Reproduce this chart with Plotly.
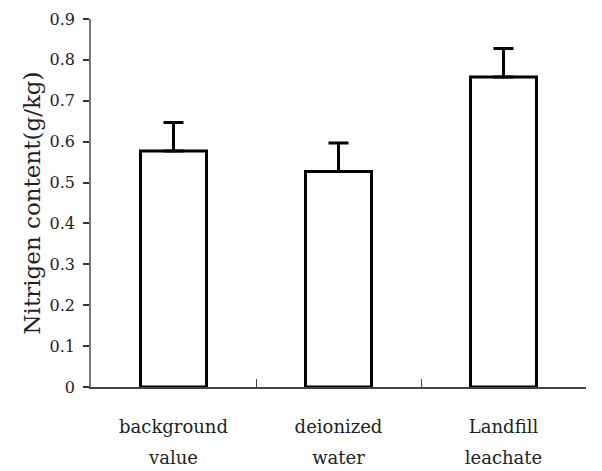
import plotly.graph_objects as go

categories = ["background value", "deionized water", "Landfill leachate"]
line1 = ["background", "deionized", "Landfill"]
line2 = ["value", "water", "leachate"]
values = [0.577, 0.527, 0.758]
errors = [0.070, 0.070, 0.070]
yticks = [0, 0.1, 0.2, 0.3, 0.4, 0.5, 0.6, 0.7, 0.8, 0.9]
ytick_text = ["0", "0.1", "0.2", "0.3", "0.4", "0.5", "0.6", "0.7", "0.8", "0.9"]

FONT = "DejaVu Serif"

fig = go.Figure()
fig.add_trace(go.Bar(
    x=categories, y=values,
    marker=dict(color="white", line=dict(color="black", width=3)),
    error_y=dict(type="data", array=errors, arrayminus=[0]*len(errors), symmetric=False,
                 color="black", thickness=3, width=10),
))

fig.update_layout(
    width=594, height=463,
    margin=dict(l=83, r=16, t=11, b=84, autoexpand=False),
    paper_bgcolor="white", plot_bgcolor="white",
    showlegend=False,
    bargap=0.6,
    font=dict(family=FONT, color="black"),
    xaxis=dict(
        type="category", automargin=False,
        tickmode="array", tickvals=categories, ticktext=line1,
        showline=True, linecolor="#444444", linewidth=1.5,
        ticks="inside", ticklen=8, tickcolor="#444444", tickwidth=1,
        tickson="boundaries",
        tickfont=dict(family=FONT, size=18, color="#222222"),
        ticklabelstandoff=23,
        showgrid=False, zeroline=False,
        range=[-0.5, 2.5],
    ),
    xaxis2=dict(
        overlaying="x", anchor="y", side="bottom", automargin=False,
        range=[-0.5, 2.5],
        tickmode="array", tickvals=[0, 1, 2], ticktext=line2,
        showline=False, ticks="", showgrid=False, zeroline=False,
        tickfont=dict(family=FONT, size=18, color="#222222"),
        ticklabelstandoff=58,
    ),
    yaxis=dict(
        range=[0, 0.9], automargin=False,
        tickmode="array", tickvals=yticks, ticktext=ytick_text,
        showline=True, linecolor="#777777", linewidth=1.5,
        ticks="outside", ticklen=6, tickcolor="#333333", tickwidth=1.5,
        tickfont=dict(family=FONT, size=16, color="#222222"),
        ticklabelstandoff=5,
        showgrid=False, zeroline=False,
        title=dict(text="Nitrigen content(g/kg)", font=dict(family=FONT, size=23, color="#222222"),
                   standoff=3),
    ),
)
fig.add_trace(go.Scatter(x=[0, 1, 2], y=[None, None, None], xaxis="x2", yaxis="y",
                         mode="markers", showlegend=False, hoverinfo="skip"))

fig.write_html("out.html")
